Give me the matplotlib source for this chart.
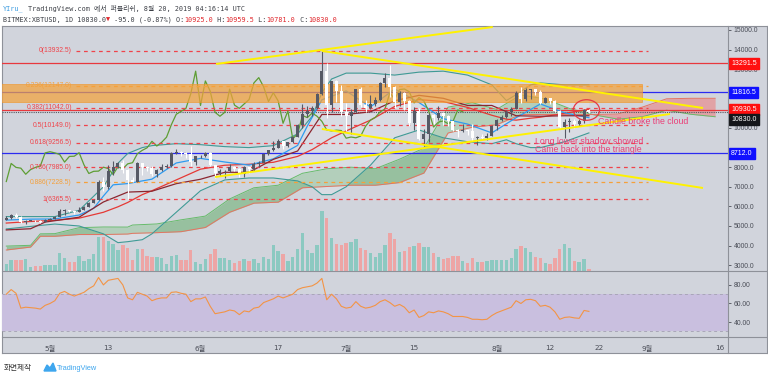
import numpy as np
import matplotlib
matplotlib.use("Agg")
import matplotlib.pyplot as plt
from matplotlib.patches import Ellipse, Rectangle, Polygon
from matplotlib.lines import Line2D

plt.rcParams['font.family'] = ['DejaVu Sans', 'Noto Sans CJK KR']

W, H = 768, 376

# daily candles, day 0 = 2019-04-22 ... day 120 = 2019-08-20
opens = [5320, 5390, 5540, 5460, 5200, 5270, 5280, 5250, 5220, 5320, 5380, 5480, 5790, 5820, 5750, 5700,
         5840, 5960, 6190, 6350, 7260, 6980, 7820, 7990, 8200, 7880, 7350, 7270, 8190, 7990, 7950, 7640,
         7880, 7990, 8060, 8730, 8790, 8730, 8650, 8260, 8550, 8560, 8740, 8120, 7680, 7790, 7800, 8000,
         7930, 7630, 8020, 7920, 8170, 8230, 8690, 8860, 8990, 9320, 9080, 9270, 9530, 10170, 10700, 10850,
         11000, 11750, 12900, 11150, 12400, 11880, 10800, 10600, 10800, 11980, 11170, 11000, 11230, 11450,
         12300, 12570, 12100, 11350, 11800, 11380, 10240, 10870, 9450, 9700, 10640, 10530, 10760, 10600,
         10340, 9900, 9850, 9890, 9870, 9480, 9540, 9500, 9590, 10090, 10400, 10540, 10820, 10970, 11800,
         11470, 11960, 11990, 11850, 11280, 11550, 11380, 10860, 10050, 10300, 10360, 10220, 10340, 10925]
highs = [5500, 5620, 5640, 5530, 5330, 5300, 5300, 5290, 5340, 5400, 5520, 5870, 5890, 5840, 5770, 5950,
         6000, 6200, 6400, 7350, 7500, 8100, 8300, 8250, 8380, 7930, 7480, 8250, 8200, 8060, 8050, 7920,
         8150, 8150, 8780, 8950, 8820, 8750, 9080, 8570, 8630, 8800, 8760, 8120, 7900, 7880, 8150, 8050,
         7950, 8080, 8030, 8240, 8300, 8700, 8900, 9350, 9450, 9340, 9300, 9600, 10200, 11200, 11100, 11100,
         11800, 13932, 13300, 12400, 12450, 12200, 11250, 10950, 12000, 12100, 11450, 11700, 11580, 12350,
         12800, 13200, 12150, 11900, 11850, 11450, 11050, 11000, 9950, 10750, 10700, 11100, 10800, 10650,
         10350, 9950, 10200, 9900, 10200, 9600, 9700, 9750, 10150, 10450, 10680, 10900, 11050, 11900, 12100,
         12050, 12000, 12000, 11950, 11580, 11550, 11450, 10900, 10450, 10500, 10450, 10480, 10950, 10959.5]
lows = [5290, 5380, 5420, 5150, 5080, 5230, 5200, 5170, 5200, 5310, 5370, 5460, 5560, 5700, 5600, 5690,
        5820, 5950, 6150, 6330, 6800, 6880, 7600, 7950, 7700, 6400, 7230, 7270, 7600, 7800, 7550, 7480,
        7820, 7960, 8000, 8650, 8560, 8450, 8050, 8120, 8460, 8540, 8080, 7450, 7570, 7450, 7760, 7800,
        7520, 7500, 7720, 7820, 8020, 8200, 8620, 8850, 8980, 8950, 9050, 9250, 9520, 10000, 10550, 10600,
        10980, 11700, 10500, 10800, 11350, 10600, 9850, 9700, 10780, 11050, 10800, 10980, 11100, 11400,
        12080, 11600, 11000, 11100, 10900, 10100, 9900, 9400, 9100, 9300, 10200, 10400, 10150, 10100,
        9850, 9550, 9800, 9650, 9350, 9150, 9400, 9400, 9580, 9900, 10350, 10500, 10600, 10950, 11250,
        11400, 11500, 11700, 11200, 11260, 11200, 10800, 9950, 9500, 9800, 9980, 10100, 10250, 10781]
closes = [5390, 5540, 5460, 5200, 5270, 5280, 5250, 5220, 5320, 5380, 5480, 5790, 5820, 5750, 5700, 5840,
          5960, 6190, 6350, 7260, 6980, 7820, 7990, 8200, 7880, 7350, 7270, 8190, 7990, 7950, 7640, 7880,
          7990, 8060, 8730, 8790, 8730, 8650, 8260, 8550, 8560, 8740, 8120, 7680, 7790, 7800, 8000, 7930,
          7630, 8020, 7920, 8170, 8230, 8690, 8860, 8990, 9320, 9080, 9270, 9530, 10170, 10700, 10850, 11000,
          11750, 12900, 11150, 12400, 11880, 10800, 10600, 10800, 11980, 11170, 11000, 11230, 11450, 12300,
          12570, 12100, 11350, 11800, 11380, 10240, 10870, 9450, 9700, 10640, 10530, 10760, 10600, 10340,
          9900, 9850, 9890, 9870, 9480, 9540, 9500, 9590, 10090, 10400, 10540, 10820, 10970, 11800, 11470,
          11960, 11990, 11850, 11280, 11550, 11380, 10860, 10050, 10300, 10360, 10220, 10340, 10920, 10830]
volume = [7, 11, 11, 11, 12, 4, 5, 5, 6, 6, 6, 18, 13, 9, 9, 15, 10, 12, 17, 34, 34,
          30, 27, 21, 26, 23, 11, 22, 22, 15, 14, 14, 13, 7, 15, 16, 11, 11, 21, 9, 7, 12, 17, 22, 13, 13,
          11, 8, 10, 12, 10, 12, 8, 14, 12, 26, 20, 17, 10, 14, 22,
          38, 21, 18, 26, 60, 53, 33, 27, 26, 28, 29, 32, 23, 21, 18, 14, 18, 26, 38, 32, 19, 20, 24, 25,
          28, 24, 24, 18, 14, 12, 13, 15, 15, 10, 8, 13, 9, 9, 10, 11, 11, 11, 11, 13, 22, 25, 23, 19, 14,
          13, 8, 7, 13, 22, 27, 23, 10, 9, 12, 2]
rsi = [70, 75, 71, 55, 56, 55.5, 55, 54, 58, 60, 63, 71, 73, 70, 68, 70, 72, 76, 79, 88, 80, 85, 86, 87,
       80, 66, 64, 72, 70, 68, 63, 65, 66, 66, 72, 72.5, 71, 70, 62, 65, 65, 67, 57, 49, 50, 51, 53, 52, 48,
       52, 51, 55, 56, 61, 63, 65, 68, 66, 68, 70, 75, 77, 78, 79, 82, 87, 64, 70, 65, 57, 55, 56, 62, 57,
       55, 56, 58, 62, 64, 61, 57, 59, 56, 50, 53, 45, 47, 51, 50, 52, 51, 49, 46, 46, 46, 45, 43, 43,
       42.5, 43, 47, 50, 52, 54, 56, 63, 60, 64, 64.5, 63, 57, 58, 56, 51, 43, 45, 45.5, 44.5, 44, 52.5, 51.5]

# indicator lines (day index, price)
bb_days = [0, 5, 10, 15, 20, 23, 25, 28, 30, 35, 40, 45, 50, 55, 60, 63, 65, 67, 70, 75, 80, 85, 90, 95,
           100, 103, 105, 108, 110, 115, 120]
bb_mid = [5150, 5230, 5290, 5400, 5700, 5980, 6200, 6600, 6800, 7350, 7900, 8100, 8150, 8250, 8550, 8900,
          9200, 9500, 9850, 10400, 11100, 11450, 11350, 11050, 10650, 10450, 10400, 10500, 10550, 10750, 10950]
bb_upper = [5480, 5480, 5480, 5800, 7000, 8200, 8700, 9000, 9100, 9200, 9150, 9050, 9000, 9100, 9700, 10600,
            11800, 12500, 12800, 12800, 12700, 12850, 12900, 12700, 12200, 11400, 11700, 12200, 12300, 12200, 12200]
bb_lower = [4850, 4980, 5100, 5000, 4600, 4150, 4200, 4300, 4600, 5700, 6800, 7350, 7450, 7450, 7300, 7000,
            6600, 6600, 7000, 8100, 9500, 9900, 9500, 9300, 9200, 9400, 9200, 9000, 9000, 9300, 9750]
tenkan_days = [0, 5, 10, 15, 18, 20, 22, 25, 30, 35, 40, 45, 50, 55, 60, 62, 65, 70, 75, 80, 85, 90, 95,
               100, 105, 110, 115, 120]
tenkan = [5300, 5350, 5360, 5560, 5900, 6530, 7100, 7165, 7390, 8215, 8450, 8265, 8105, 8425, 9110, 10100,
          11440, 11890, 11075, 11990, 11300, 10475, 10200, 9750, 10525, 11225, 10775, 10525]
kijun_days = [0, 5, 8, 10, 15, 20, 25, 30, 35, 40, 45, 50, 55, 60, 65, 70, 75, 80, 85, 90, 95, 100, 105,
              110, 115, 120]
kijun = [4800, 4860, 5200, 5270, 5450, 6225, 6730, 6775, 7160, 7385, 7740, 7740, 8400, 8825, 10690, 10690,
         10825, 11390, 11665, 11515, 11150, 11150, 10625, 10600, 10625, 10625]
cloud_days = [0, 5, 7, 10, 15, 20, 25, 26, 31, 36, 41, 46, 51, 56, 61, 66, 71, 76, 81, 86, 91, 96, 101,
              106, 111, 116, 121, 126, 131, 136, 141, 146]
span_a = [3975, 4015, 4600, 4610, 4915, 4950, 4945, 5050, 5105, 5315, 5505, 6380, 6950, 7080, 7690, 7920,
          8000, 7920, 8410, 8970, 11065, 11290, 10950, 11690, 11480, 10995, 10675, 10450, 10575, 10910, 10700, 10575]
span_b = [3775, 3925, 4475, 4475, 4565, 4565, 4590, 4625, 4660, 4710, 4925, 5700, 6165, 6215, 6950, 7015,
          7080, 7080, 7215, 7700, 9745, 10040, 10165, 10690, 10690, 10690, 10690, 10715, 11065, 11490, 11515, 11515]
lag_shift = 26

# drawings
fib_names = ['0', '0.236', '0.382', '0.5', '0.618', '0.786', '0.886', '1']
fib_levels = [13932.5, 12147.0, 11042.0, 10149.0, 9256.5, 7985.0, 7228.5, 6365.5]
fib_colors = ['#F0434A', '#F5A03A', '#F0434A', '#F0434A', '#F0434A', '#F0434A', '#F5A03A', '#F0434A']
fib_span = [14.3, 132.2]
zone_days = [-1, 131]
zone_prices = [11330, 12245]
trend_x0 = [43.2, 65.0, 65.0, 43.0]
trend_y0 = [13265, 13932.5, 9949, 7500]
trend_x1 = [100.2, 143.5, 143.5, 136.7]
trend_y1 = [15153, 11020, 6939, 10714]
hline_prices = [13291.5, 11816.5, 10930.5, 8712.0]
hline_colors = ['#E8383D', '#2B2BF0', '#E8383D', '#2B2BF0']
last_price = 10830.0
tag_prices = [13291.5, 11816.5, 10930.5, 8712.0]
tag_colors = ['#FF1010', '#1010FF', '#FF1010', '#1010FF']
circle_day, circle_price = 119.5, 10918
notes = ['Candle broke the cloud', 'Long lower shadow showed', 'Came back into the triangle']
note_days = [121.9, 109.0, 109.0]
note_prices = [10330, 9330, 8900]

price_ticks = [3000, 4000, 5000, 6000, 7000, 8000, 10000, 13000, 14000, 15000]
tick_days = [9, 21, 40, 56, 70, 84, 101, 112, 122, 132, 147]
tick_labels = ['5월', '13', '6월', '17', '7월', '15', '8월', '12', '22', '9월', '16']

BG = '#D1D4DC'
GRID = '#8E9199'
TXT = '#4A4D57'


def box(x0, y0, x1, y1):
    return [x0 / W, 1 - y1 / H, (x1 - x0) / W, (y1 - y0) / H]


def fx(px):
    return px / W


def fy(py):
    return 1 - py / H


fig = plt.figure(figsize=(W / 100, H / 100), dpi=100)
fig.patch.set_facecolor('white')

frame = fig.add_axes(box(2, 26, 767, 353))
frame.set_facecolor(BG)
frame.set_xticks([])
frame.set_yticks([])
for s in frame.spines.values():
    s.set_color(GRID)
    s.set_linewidth(0.8)

vax = fig.add_axes(box(2, 26, 728, 271))
ax = fig.add_axes(box(2, 26, 728, 271), sharex=vax)
rax = fig.add_axes(box(2, 271, 728, 337), sharex=vax)
for a in (vax, ax, rax):
    a.patch.set_visible(False)
    for s in a.spines.values():
        s.set_visible(False)

days = np.arange(len(closes))
o, hi, lo, c = map(np.array, (opens, highs, lows, closes))
up = c >= o

# volume
vax.bar(days, volume, width=0.7, color=np.where(up, '#8CC9C1', '#EDA5A5'), linewidth=0)
vax.set_ylim(0, 245)
vax.axis('off')

ax.set_xlim(-0.886, 148.65)
ax.set_ylim(2704, 15204)

# ichimoku cloud
sa, sb = np.array(span_a), np.array(span_b)
ax.fill_between(cloud_days, sa, sb, where=sa >= sb, interpolate=True, color='#5FAE63', alpha=0.5, lw=0, zorder=1)
ax.fill_between(cloud_days, sa, sb, where=sa < sb, interpolate=True, color='#F07A7A', alpha=0.55, lw=0, zorder=1)
ax.plot(cloud_days, span_a, color='#66BB6A', lw=0.7, zorder=2)
ax.plot(cloud_days, span_b, color='#E57361', lw=0.7, zorder=2)

# bollinger
ax.fill_between(bb_days, bb_lower, bb_upper, color='#E8EDF2', alpha=0.35, lw=0, zorder=1.5)
ax.plot(bb_days, bb_upper, color='#3F9A95', lw=0.8, zorder=3)
ax.plot(bb_days, bb_lower, color='#3F9A95', lw=0.8, zorder=3)
ax.plot(bb_days, bb_mid, color='#E53935', lw=0.9, zorder=3)

# tenkan / kijun / lagging span
ax.plot(tenkan_days, tenkan, color='#2E9BF0', lw=0.9, zorder=3)
ax.plot(kijun_days, kijun, color='#8B2630', lw=0.9, zorder=3)
ax.plot(days[:-lag_shift], closes[lag_shift:], color='#5E9E34', lw=0.9, zorder=3)

# horizontal levels
for p, col in zip(hline_prices, hline_colors):
    ax.axhline(p, color=col, lw=0.9, zorder=2.5)
ax.axhline(last_price, color='#555860', lw=0.8, ls=(0, (1, 1)), zorder=2.5)

# orange zone
ax.add_patch(Rectangle((zone_days[0], zone_prices[0]), zone_days[1] - zone_days[0],
                       zone_prices[1] - zone_prices[0], facecolor='#F3A23C', alpha=0.72,
                       edgecolor='#F0962A', lw=0.6, zorder=4))

# fibonacci
for name, lev, col in zip(fib_names, fib_levels, fib_colors):
    ax.hlines(lev, fib_span[0], fib_span[1], colors=col, lw=0.9, linestyles=(0, (3, 3)), zorder=5)
    ax.text(fib_span[0] - 0.8, lev, f'{name}({lev:.1f})', ha='right', va='center', fontsize=4.9,
            color=col, family=['Liberation Sans'], zorder=5)

# candles
ccol = np.where(up, '#565965', '#FFFFFF')
ax.vlines(days, lo, hi, colors=ccol, lw=0.8, zorder=6)
ax.bar(days, np.maximum(np.abs(c - o), 25), bottom=np.minimum(o, c), width=0.62, color=ccol,
       linewidth=0, zorder=7)

# trend lines
for x0, y0, x1, y1 in zip(trend_x0, trend_y0, trend_x1, trend_y1):
    ax.plot([x0, x1], [y0, y1], color='#FFF200', lw=1.4, zorder=8, solid_capstyle='butt')

# annotations
ax.add_patch(Ellipse((circle_day, circle_price), 5.4, 1050, fill=False, edgecolor='#E53945', lw=0.9, zorder=9))
for t, d, p in zip(notes, note_days, note_prices):
    ax.text(d, p, t, fontsize=6.3, color='#EA3F77', va='center', ha='left', family=['Liberation Sans'], zorder=9)

# right price scale (labels hidden under the price tags are left out)
ax.yaxis.tick_right()
ax.set_yticks(price_ticks)
ax.set_yticklabels([f'{v:.1f}' for v in price_ticks], family=['Liberation Sans'])
ax.tick_params(axis='y', labelsize=4.9, colors=TXT, length=2.5, width=0.6, pad=1.5)
ax.tick_params(axis='x', bottom=False, labelbottom=False)

tag_kw = dict(xycoords=('axes fraction', 'data'), textcoords='offset points', va='center', ha='left',
              fontsize=5.0, color='white', family=['Liberation Sans'], annotation_clip=False, zorder=10)
for p, col in zip(tag_prices, tag_colors):
    ax.annotate(f'{p:.1f}', xy=(1, p), xytext=(2.2, 0),
                bbox=dict(boxstyle='square,pad=0.3', fc=col, ec=col), **tag_kw)
ax.annotate(f'{last_price:.1f}', xy=(1, last_price), xytext=(2.2, -5.5),
            bbox=dict(boxstyle='square,pad=0.3', fc='#15161A', ec='#15161A'), **tag_kw)

# RSI panel
rax.set_ylim(23.9, 95)
rax.axhspan(30, 70, color='#C9BFDF', lw=0, zorder=0)
rax.axhline(70, color='#A9A6B8', lw=0.7, ls=(0, (3, 3)))
rax.axhline(30, color='#A9A6B8', lw=0.7, ls=(0, (3, 3)))
rax.plot(days, rsi, color='#F39445', lw=0.8)
rax.yaxis.tick_right()
rax.set_yticks([40, 60, 80])
rax.set_yticklabels(['40.00', '60.00', '80.00'], family=['Liberation Sans'])
rax.tick_params(axis='y', labelsize=4.9, colors=TXT, length=2.5, width=0.6, pad=1.5)
rax.set_xticks(tick_days)
rax.set_xticklabels(tick_labels)
rax.tick_params(axis='x', labelsize=5.2, colors=TXT, length=0, pad=6)

# separators
for y in (271, 337):
    fig.add_artist(Line2D([fx(2), fx(767)], [fy(y), fy(y)], color=GRID, lw=0.8))
fig.add_artist(Line2D([fx(728), fx(728)], [fy(26), fy(353)], color=GRID, lw=0.8))

# header
mono = ['DejaVu Sans Mono', 'Noto Sans CJK KR']
cw = 4.12
fig.text(fx(3), fy(9), 'YIru_', color='#3A9BE0', fontsize=4.9, family=mono, va='center')
fig.text(fx(3 + 6 * cw), fy(9), 'TradingView.com 에서 퍼블리쉬, 8월 20, 2019 04:16:14 UTC', color='#3B3E45',
         fontsize=4.9, family=mono, va='center')
segs = [('BITMEX:XBTUSD, 1D 10830.0', '#3B3E45'), ('▼', '#E0262B'), (' -95.0 (-0.87%) O:', '#3B3E45'),
        ('10925.0', '#E0262B'), (' H:', '#3B3E45'), ('10959.5', '#E0262B'), (' L:', '#3B3E45'),
        ('10781.0', '#E0262B'), (' C:', '#3B3E45'), ('10830.0', '#E0262B')]
pos = 0
for s, col in segs:
    fig.text(fx(3 + pos * cw), fy(20), s, color=col, fontsize=4.9, family=mono, va='center')
    pos += len(s)

# footer
fig.text(fx(4), fy(368), '화면제작', fontsize=5.5, color='#333333', va='center', family=['Noto Sans CJK KR'])
fig.add_artist(Polygon([[fx(44), fy(371)], [fx(47), fy(365)], [fx(50), fy(368)], [fx(53), fy(363)],
                        [fx(56), fy(371)]], closed=True, color='#3EA6EE'))
fig.text(fx(57), fy(368), 'TradingView', fontsize=5.3, color='#3EA6EE', va='center', family=['Liberation Sans'])

fig.savefig('out.png', dpi=100, facecolor='white')
